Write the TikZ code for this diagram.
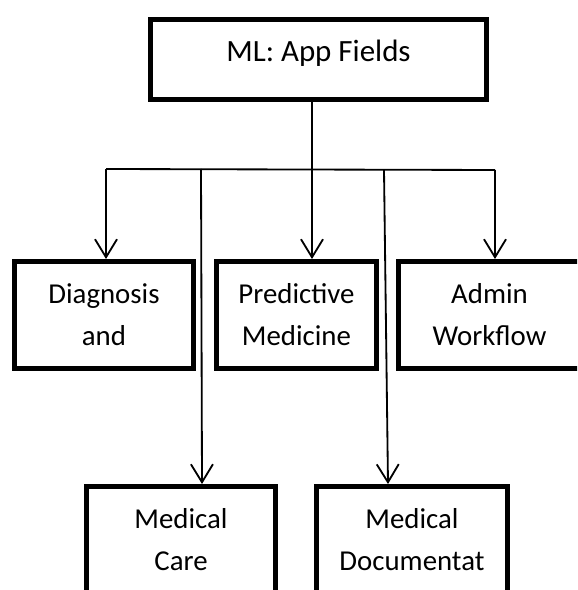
\documentclass[tikz,border=0pt]{standalone}
\usepackage{fontspec}
\setmainfont{Carlito}
\usetikzlibrary{arrows.meta, positioning}

\begin{document}
\begin{tikzpicture}[x=0.025cm, y=-0.025cm,
  box/.style={draw, line width=3.5pt, inner sep=0pt, anchor=north west,
    align=center, minimum height=2.675cm, font=\fontsize{20.5}{30}\selectfont},
  link/.style={line width=1.3pt},
  arr/.style={link, -{Straight Barb[length=4.5mm, width=5.5mm, line width=1.3pt]}}]
  % page
  \useasboundingbox (0,0) rectangle (577,590);
  \clip (0,0) rectangle (577,590);
  % boxes
  \node[box, minimum width=8.4cm, minimum height=2cm, text depth=0.45cm,
    font=\fontsize{22}{30}\selectfont] (top) at (148,17) {ML: App Fields};
  \node[box, minimum width=4.475cm] (diag) at (12,259) {Diagnosis\\and};
  \node[box, minimum width=4.0cm] (pred) at (214,259) {Predictive\\Medicine};
  \node[box, minimum width=4.55cm] (admin) at (396,259) {Admin\\Workflow};
  \node[box, minimum width=4.725cm] (care) at (84,484) {Medical\\Care};
  \node[box, minimum width=4.775cm] (doc) at (314,484) {Medical\\Documentat};
  % branch points
  \coordinate (hl) at (106,169);
  \coordinate (hc) at (312,169);
  \coordinate (hr) at (495,170);
  \coordinate (mc) at (201,169);
  \coordinate (md) at (384,170);
  % connectors
  \draw[link] (hl) -- (hr);
  \draw[arr] (hc |- top.south) -- (hc |- pred.north);
  \draw[arr] (hl) -- (hl |- diag.north);
  \draw[arr] (hr) -- (hr |- admin.north);
  \draw[arr] (mc) -- ([xshift=0.025cm]mc |- care.north);
  \draw[arr] (md) -- ([xshift=0.1cm]md |- doc.north);
\end{tikzpicture}
\end{document}
